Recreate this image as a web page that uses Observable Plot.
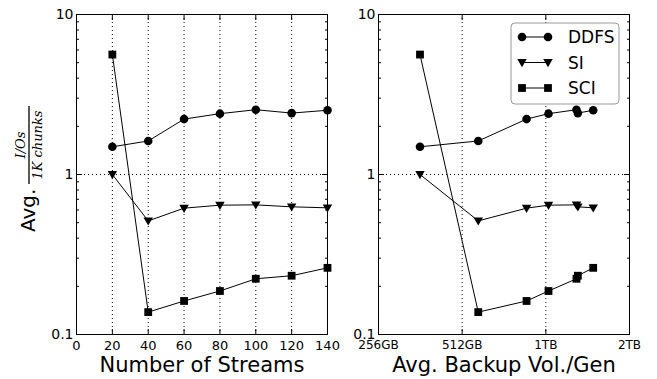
<!DOCTYPE html>
<html><head><meta charset="utf-8">
<script src="https://cdn.jsdelivr.net/npm/d3@7"></script>
<script src="https://cdn.jsdelivr.net/npm/@observablehq/plot@0.6"></script>
<style>
html,body{margin:0;padding:0;background:#fff;}
#chart{position:relative;width:657px;height:379px;overflow:hidden;font-family:"DejaVu Sans",sans-serif;background:#fff;}
#chart svg{position:absolute;top:0;}
</style></head><body><div id="chart"></div>
<script>
// ---- data ----
const seriesNames = ["DDFS", "SI", "SCI"];
const streams = [20, 40, 60, 80, 100, 120, 140];
const volumeGB = [361, 585, 873, 1047, 1320, 1335, 1516];
const ddfs = [1.49, 1.62, 2.22, 2.40, 2.54, 2.42, 2.52];
const si = [1.0, 0.513, 0.616, 0.643, 0.646, 0.628, 0.619];
const sci = [5.62, 0.138, 0.162, 0.187, 0.223, 0.233, 0.261];
const streamTicks = [0, 20, 40, 60, 80, 100, 120, 140];
const streamGrid = [20, 40, 60, 80, 100, 120];
const volTicks = [256, 512, 1024, 2048];
const volTickLabels = ["256GB", "512GB", "1TB", "2TB"];
const volGrid = [512, 1024];
const yTicks = [0.1, 1, 10];
const yTickLabels = ["0.1", "1", "10"];
const yMinor = [0.2, 0.3, 0.4, 0.5, 0.6, 0.7, 0.8, 0.9, 2, 3, 4, 5, 6, 7, 8, 9];
const yGrid = [1];
const xTitleLeft = "Number of Streams";
const xTitleRight = "Avg. Backup Vol./Gen";

const valuesBySeries = {DDFS: ddfs, SI: si, SCI: sci};
const rows = seriesNames.flatMap(s => valuesBySeries[s].map((v, i) => ({series: s, streams: streams[i], vol: volumeGB[i], value: v})));

const triangleDown = {
  draw(ctx, size) {
    const r = Math.sqrt(size / Math.PI);
    const w = r * 1.1, h = r;
    ctx.moveTo(-w, -h * 0.8);
    ctx.lineTo(w, -h * 0.8);
    ctx.lineTo(0, h * 1.1);
    ctx.closePath();
  }
};
const symbols = {DDFS: {symbol: "circle", r: 4.3}, SI: {symbol: triangleDown, r: 4.3}, SCI: {symbol: "square", r: 4.4}};

const FONT = "DejaVu Sans";
const H = 379, MT = 14, MB = 45;

function commonMarks(xKey, xTickVals, xFmt, xGridVals, xTickFont, xTitle) {
  const marks = [
    Plot.gridX({ticks: xGridVals, stroke: "black", strokeOpacity: 1, strokeWidth: 1, strokeDasharray: "1,3"}),
    Plot.gridY({ticks: yGrid, stroke: "black", strokeOpacity: 1, strokeWidth: 1, strokeDasharray: "1,3"}),
    Plot.frame({stroke: "black", strokeWidth: 1}),
    // inward ticks
    Plot.axisX({anchor: "bottom", ticks: xTickVals, tickSize: -5, text: null, label: null}),
    Plot.axisX({anchor: "top", ticks: xTickVals, tickSize: -5, text: null, label: null}),
    Plot.axisY({anchor: "left", ticks: yTicks, tickSize: -6, text: null, label: null}),
    Plot.axisY({anchor: "right", ticks: yTicks, tickSize: -6, text: null, label: null}),
    Plot.axisY({anchor: "left", ticks: yMinor, tickSize: -3, text: null, label: null}),
    Plot.axisY({anchor: "right", ticks: yMinor, tickSize: -3, text: null, label: null}),
    // tick labels
    Plot.axisX({anchor: "bottom", ticks: xTickVals, tickSize: 0, tickPadding: 6, tickFormat: xFmt, fontSize: xTickFont, label: null}),
    Plot.axisY({anchor: "left", ticks: yTicks, tickSize: 0, tickPadding: 3, tickFormat: d => yTickLabels[yTicks.indexOf(d)], fontSize: 14, label: null}),
    // axis title
    Plot.text([xTitle], {text: d => d, frameAnchor: "bottom", dy: 37, lineAnchor: "bottom", fontSize: 21, fill: "black"}),
    Plot.line(rows, {x: xKey, y: "value", z: "series", stroke: "black", strokeWidth: 1})
  ];
  for (const s of seriesNames) {
    marks.push(Plot.dot(rows.filter(d => d.series === s), {x: xKey, y: "value", symbol: symbols[s].symbol, r: symbols[s].r, fill: "black", stroke: "none"}));
  }
  return marks;
}

const left = Plot.plot({
  width: 340, height: H,
  marginLeft: 76, marginRight: 13, marginTop: MT, marginBottom: MB,
  style: {fontFamily: FONT, background: "transparent", color: "black", overflow: "visible"},
  x: {domain: [0, 140]},
  y: {type: "log", domain: [0.1, 10]},
  marks: commonMarks("streams", streamTicks, d => String(d), streamGrid, 13, xTitleLeft)
});

const right = Plot.plot({
  width: 317, height: H,
  marginLeft: 38, marginRight: 28, marginTop: MT, marginBottom: MB,
  style: {fontFamily: FONT, background: "transparent", color: "black", overflow: "visible"},
  x: {type: "log", base: 2, domain: [256, 2048]},
  y: {type: "log", domain: [0.1, 10]},
  marks: commonMarks("vol", volTicks, d => volTickLabels[volTicks.indexOf(d)], volGrid, 12, xTitleRight)
});

left.style.left = "0px";
right.style.left = "340px";
const chart = document.getElementById("chart");
chart.appendChild(left);
chart.appendChild(right);

// y-axis title with fraction
const ls = d3.select(left);
const yl = ls.append("g").attr("fill", "black");
yl.append("text").attr("transform", "translate(35,232) rotate(-90)").attr("text-anchor", "start")
  .attr("font-family", FONT).attr("font-size", 20).text("Avg.");
const fy = 145;
yl.append("text").attr("transform", `translate(25,${fy}) rotate(-90)`)
  .attr("text-anchor", "middle").attr("font-family", "DejaVu Serif").attr("font-style", "italic").attr("font-size", 13).text("I/Os");
yl.append("line").attr("x1", 29).attr("x2", 29).attr("y1", fy - 39).attr("y2", fy + 39).attr("stroke", "black").attr("stroke-width", 1.3);
yl.append("text").attr("transform", `translate(42,${fy}) rotate(-90)`)
  .attr("text-anchor", "middle").attr("font-family", "DejaVu Serif").attr("font-style", "italic").attr("font-size", 13).text("1K chunks");

// legend
const rs = d3.select(right);
const lg = rs.append("g").attr("transform", "translate(171,23)");
lg.append("rect").attr("width", 108).attr("height", 81).attr("rx", 4).attr("fill", "white").attr("stroke", "#999").attr("stroke-width", 1);
const symPath = {DDFS: d3.symbol(d3.symbolCircle, Math.PI * 4.3 * 4.3)(), SI: d3.symbol(triangleDown, Math.PI * 4.3 * 4.3)(), SCI: d3.symbol(d3.symbolSquare, Math.PI * 4.4 * 4.4)()};
seriesNames.forEach((s, i) => {
  const y = 14 + i * 25.5;
  lg.append("line").attr("x1", 11).attr("x2", 37).attr("y1", y).attr("y2", y).attr("stroke", "black").attr("stroke-width", 1);
  [11, 37].forEach(x => lg.append("path").attr("d", symPath[s]).attr("transform", `translate(${x},${y})`).attr("fill", "black"));
  lg.append("text").attr("x", 57).attr("y", y).attr("dy", "0.36em").attr("text-anchor", "start").attr("font-family", FONT).attr("font-size", 17).text(s);
});
</script></body></html>
